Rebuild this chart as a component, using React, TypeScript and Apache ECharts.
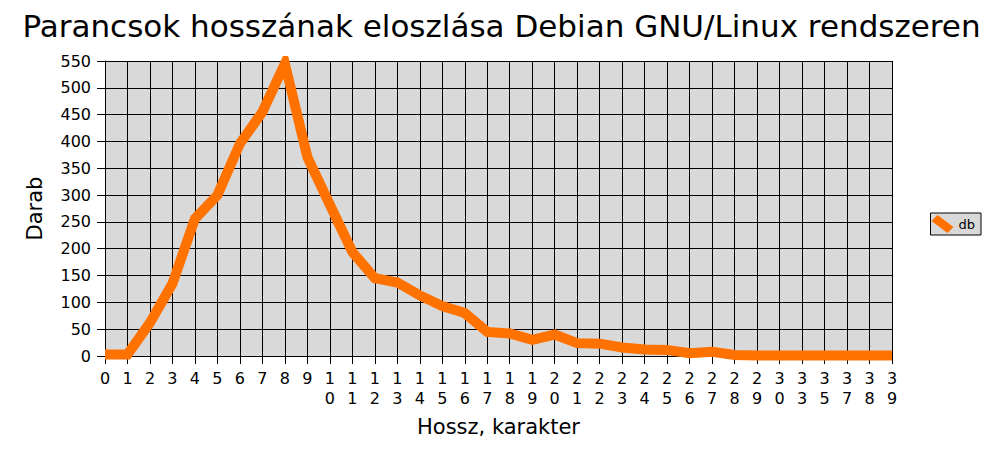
import React, { useEffect, useRef } from "react";
import * as echarts from "echarts";

const categories = [
  "0","1","2","3","4","5","6","7","8","9","10","11","12","13","14","15","16","17","18","19",
  "20","21","22","23","24","25","26","27","28","29","30","33","35","37","38","39",
];
const dbValues = [
  3, 3, 62, 135, 256, 300, 396, 455, 545, 371, 282, 194, 145, 137, 113, 93, 80, 45, 42, 30,
  40, 24, 23, 16, 12, 11, 5, 8, 2, 1, 1, 1, 1, 1, 1, 1,
];
const yTicks = { min: 0, max: 550, interval: 50 };

const FONT = "DejaVu Sans";

export default function App() {
  const ref = useRef<HTMLDivElement>(null);
  useEffect(() => {
    if (!ref.current) return;
    const chart = echarts.init(ref.current, null, { renderer: "svg" });
    chart.setOption({
      animation: false,
      backgroundColor: "#ffffff",
      textStyle: { fontFamily: FONT },
      title: {
        text: "Parancsok hosszának eloszlása Debian GNU/Linux rendszeren",
        left: "center",
        top: 5,
        textStyle: { fontFamily: FONT, fontSize: 31, fontWeight: "normal", color: "#000" },
      },
      legend: {
        right: 22,
        top: 213,
        orient: "vertical",
        backgroundColor: "#d9d9d9",
        borderColor: "#000",
        borderWidth: 1,
        borderRadius: 0,
        padding: [2, 6, 2, 1],
        itemWidth: 22,
        itemHeight: 18,
        itemGap: 4,
        icon: "path://M0,6 L6,0 L22,12 L16,18 Z",
        textStyle: { fontFamily: FONT, fontSize: 13, color: "#000" },
        data: ["db"],
      },
      grid: { left: 105, right: 111, top: 61, bottom: 95, containLabel: false },
      xAxis: {
        type: "category",
        data: categories,
        boundaryGap: false,
        name: "Hossz, karakter",
        nameLocation: "middle",
        nameGap: 60,
        nameTextStyle: { fontFamily: FONT, fontSize: 21, color: "#000" },
        axisLine: { show: true, lineStyle: { color: "#000", width: 1 } },
        axisTick: { show: true, interval: 0, length: 8, lineStyle: { color: "#000" } },
        axisLabel: {
          interval: 0,
          color: "#000",
          fontFamily: FONT,
          fontSize: 16,
          lineHeight: 20,
          margin: 12,
          formatter: (v: string) => v.split("").join("\n"),
        },
        splitLine: { show: true, interval: 0, lineStyle: { color: "#000", width: 1 } },
      },
      yAxis: {
        type: "value",
        min: yTicks.min,
        max: yTicks.max,
        interval: yTicks.interval,
        name: "Darab",
        nameLocation: "middle",
        nameGap: 60,
        nameRotate: 90,
        nameTextStyle: { fontFamily: FONT, fontSize: 21, color: "#000" },
        axisLine: { show: true, lineStyle: { color: "#000", width: 1 } },
        axisTick: { show: true, length: 8, lineStyle: { color: "#000" } },
        axisLabel: { color: "#000", fontFamily: FONT, fontSize: 16, margin: 14 },
        splitLine: { show: true, lineStyle: { color: "#000", width: 1 } },
        splitArea: { show: false },
      },
      series: [
        {
          name: "db",
          type: "line",
          data: dbValues,
          showSymbol: false,
          symbol: "none",
          itemStyle: { color: "#ff7200" },
          lineStyle: { color: "#ff7200", width: 10, join: "miter" },
          z: 5,
        },
      ],
      graphic: [
        {
          type: "rect",
          z: -1,
          silent: true,
          shape: { x: 105, y: 61, width: 787, height: 295 },
          style: { fill: "#d9d9d9" },
        },
      ],
    });
    return () => chart.dispose();
  }, []);
  return <div ref={ref} style={{ width: 1003, height: 451, position: "absolute", left: 0, top: 0 }} />;
}
